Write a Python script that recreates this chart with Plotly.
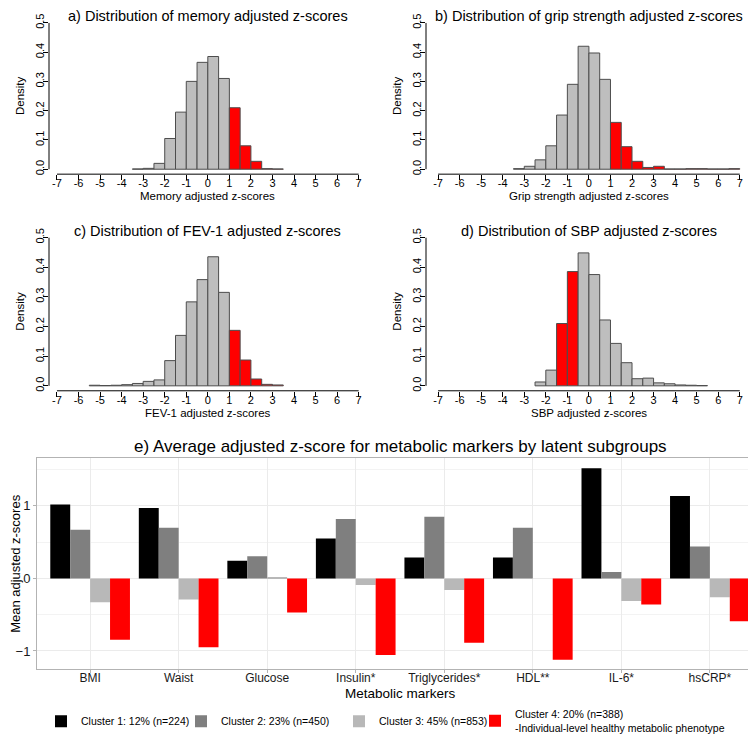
import plotly.graph_objects as go

# histogram bins (left edges, width 0.5) and densities
mem_bins = [-3.5, -3, -2.5, -2, -1.5, -1, -0.5, 0, 0.5, 1, 1.5, 2, 2.5, 3]
mem_dens = [0.001, 0.003, 0.02, 0.105, 0.195, 0.30, 0.365, 0.385, 0.31, 0.21, 0.08, 0.027, 0.002, 0.001]

grip_bins = [-3.5, -3, -2.5, -2, -1.5, -1, -0.5, 0, 0.5, 1, 1.5, 2, 2.5, 3, 3.5, 4, 4.5, 5, 5.5, 6, 6.5]
grip_dens = [0.002, 0.01, 0.032, 0.08, 0.185, 0.29, 0.42, 0.397, 0.307, 0.16, 0.077, 0.027, 0.006, 0.01,
             0.001, 0.001, 0.002, 0.002, 0.001, 0.001, 0.002]

fev_bins = [-5.5, -5, -4.5, -4, -3.5, -3, -2.5, -2, -1.5, -1, -0.5, 0, 0.5, 1, 1.5, 2, 2.5, 3]
fev_dens = [0.002, 0.001, 0.002, 0.004, 0.008, 0.015, 0.02, 0.085, 0.17, 0.283, 0.358, 0.435, 0.315,
            0.187, 0.087, 0.023, 0.005, 0.003]

sbp_bins = [-2.5, -2, -1.5, -1, -0.5, 0, 0.5, 1, 1.5, 2, 2.5, 3, 3.5, 4, 4.5, 5]
sbp_dens = [0.013, 0.053, 0.21, 0.385, 0.448, 0.375, 0.222, 0.143, 0.078, 0.024, 0.026, 0.01, 0.007,
            0.003, 0.002, 0.001]

# metabolic markers by cluster
markers = ["BMI", "Waist", "Glucose", "Insulin*", "Triglycerides*", "HDL**", "IL-6*", "hsCRP*"]
cluster1 = [1.02, 0.97, 0.245, 0.55, 0.29, 0.29, 1.52, 1.135]
cluster2 = [0.67, 0.70, 0.305, 0.82, 0.85, 0.70, 0.088, 0.44]
cluster3 = [-0.33, -0.29, 0.01, -0.09, -0.16, 0.0, -0.31, -0.26]
cluster4 = [-0.845, -0.95, -0.47, -1.055, -0.886, -1.12, -0.36, -0.59]
cluster_names = ["Cluster 1: 12% (n=224)", "Cluster 2: 23% (n=450)", "Cluster 3: 45% (n=853)",
                 "Cluster 4: 20% (n=388)<br>-Individual-level healthy metabolic phenotype"]
cluster_colors = ["#000000", "#7F7F7F", "#B8B8B8", "#FF0000"]

W, H = 756, 734
FONT = "Liberation Sans, Arial, sans-serif"
GREY, RED = "#BEBEBE", "#FF0000"


def px(x):
    return x / W


def py(y):
    return 1 - y / H


fig = go.Figure()

panels = [
    (mem_bins, mem_dens, lambda b: b >= 1, "", "a) Distribution of memory adjusted z-scores", "Memory adjusted z-scores"),
    (grip_bins, grip_dens, lambda b: b >= 1, "2", "b) Distribution of grip strength adjusted z-scores", "Grip strength adjusted z-scores"),
    (fev_bins, fev_dens, lambda b: b >= 1, "3", "c) Distribution of FEV-1 adjusted z-scores", "FEV-1 adjusted z-scores"),
    (sbp_bins, sbp_dens, lambda b: -1.5 <= b < -0.5, "4", "d) Distribution of SBP adjusted z-scores", "SBP adjusted z-scores"),
]

# pixel boxes: (left, right, top, bottom, xmin)
boxes = [(41, 356, 15, 168, -7.37), (418, 735, 15, 168, -7.56),
         (41, 356, 232, 387, -7.37), (418, 735, 232, 387, -7.56)]

annotations = []
shapes = []
for (bins, dens, is_red, k, title, xlab), (l, r, t, b, xmin) in zip(panels, boxes):
    colors = [RED if is_red(v) else GREY for v in bins]
    fig.add_trace(go.Bar(x=bins, y=dens, width=0.5, offset=0, marker_color=colors,
                         marker_line=dict(color="#4d4d4d", width=1), showlegend=False,
                         xaxis="x" + k, yaxis="y" + k))
    xmax = xmin + (r - l) / 21.55
    ymin = -0.5 * 5 / (b - t - 5)
    fig.layout["xaxis" + k] = dict(domain=[px(l), px(r)], range=[xmin, xmax], anchor="y" + k,
                                   tickmode="array", tickvals=list(range(-7, 8)),
                                   ticktext=[str(v) for v in range(-7, 8)],
                                   ticks="outside", ticklen=5, tickcolor="#000", showline=False,
                                   showgrid=False, zeroline=False, ticklabelstandoff=-6,
                                   tickfont=dict(size=11, color="#000"), automargin=False)
    fig.layout["yaxis" + k] = dict(domain=[py(b), py(t)], range=[ymin, 0.5], anchor="x" + k,
                                   tickvals=[0, 0.1, 0.2, 0.3, 0.4, 0.5],
                                   ticktext=["0.0", "0.1", "0.2", "0.3", "0.4", "0.5"],
                                   tickangle=-90, ticks="outside", ticklen=5, tickcolor="#000",
                                   showline=False, showgrid=False, zeroline=False, ticklabelstandoff=-5,
                                   tickfont=dict(size=11, color="#000"), automargin=False)
    xr = "x" + k
    yr = "y" + k
    shapes.append(dict(type="line", xref=xr, yref=yr + " domain", x0=-7, x1=7, y0=0, y1=0,
                       line=dict(color="#000", width=1)))
    shapes.append(dict(type="line", xref=xr + " domain", yref=yr, x0=0, x1=0, y0=0, y1=0.5,
                       line=dict(color="#000", width=1)))
    annotations.append(dict(text=title, xref=xr, x=0, yref="paper", y=py(t - 7),
                            xanchor="center", yanchor="middle", showarrow=False, font=dict(size=14.5)))
    annotations.append(dict(text="Density", xref="paper", x=px(l - 29), yref=yr, y=0.25,
                            xanchor="center", yanchor="middle", textangle=-90, showarrow=False,
                            font=dict(size=11.5)))
    annotations.append(dict(text=xlab, xref=xr, x=0, yref="paper", y=py(b + 22),
                            xanchor="center", yanchor="middle", showarrow=False, font=dict(size=11.5)))

# grouped bar chart
for vals, name, col, lg in zip([cluster1, cluster2, cluster3, cluster4], cluster_names, cluster_colors,
                               ["legend", "legend2", "legend3", "legend4"]):
    fig.add_trace(go.Bar(x=markers, y=vals, name=name, marker_color=col, marker_line_width=0,
                         xaxis="x5", yaxis="y5", legend=lg))

fig.update_layout(
    xaxis5=dict(domain=[px(29), px(755)], range=[-0.6, 7.6], anchor="y5", type="category",
                showline=True, mirror=True, linecolor="#B3B3B3", linewidth=1,
                showgrid=True, gridcolor="#EBEBEB", gridwidth=1,
                ticks="outside", ticklen=3, tickcolor="#B3B3B3", ticklabelstandoff=-5,
                tickfont=dict(size=12, color="#1a1a1a"), automargin=False),
    yaxis5=dict(domain=[py(668), py(455)], range=[-1.245, 1.66], anchor="x5",
                tickvals=[-1, 0, 1], showline=True, mirror=True, linecolor="#B3B3B3", linewidth=1,
                showgrid=True, gridcolor="#EBEBEB", gridwidth=1, zeroline=False,
                minor=dict(tickvals=[-0.5, 0.5, 1.5], showgrid=True, gridcolor="#F3F3F3", gridwidth=0.6),
                ticks="outside", ticklen=3, tickcolor="#B3B3B3",
                tickfont=dict(size=13, color="#1a1a1a"), automargin=False),
)

annotations.append(dict(text="e) Average adjusted z-score for metabolic markers by latent subgroups",
                        xref="paper", x=px(392), yref="paper", y=py(443), xanchor="center",
                        yanchor="middle", showarrow=False, font=dict(size=17)))
annotations.append(dict(text="Metabolic markers", xref="paper", x=px(392), yref="paper", y=py(693),
                        xanchor="center", yanchor="middle", showarrow=False, font=dict(size=13.5)))
annotations.append(dict(text="Mean adjusted z-scores", xref="paper", x=px(8), yref="paper", y=py(562),
                        xanchor="center", yanchor="middle", textangle=-90, showarrow=False,
                        font=dict(size=13)))

leg = dict(orientation="h", xanchor="left", yanchor="middle", y=py(721),
           font=dict(size=10.5), bgcolor="rgba(0,0,0,0)")
fig.update_layout(
    width=W, height=H, margin=dict(l=0, r=0, t=0, b=0), autosize=False,
    paper_bgcolor="white", plot_bgcolor="white",
    font=dict(family=FONT, color="#000"),
    barmode="group", bargap=0.1, bargroupgap=0,
    annotations=annotations, shapes=shapes,
    legend=dict(leg, x=px(33)),
    legend2=dict(leg, x=px(173)),
    legend3=dict(leg, x=px(331)),
    legend4=dict(leg, x=px(467)),
)

fig.write_html("out.html")
